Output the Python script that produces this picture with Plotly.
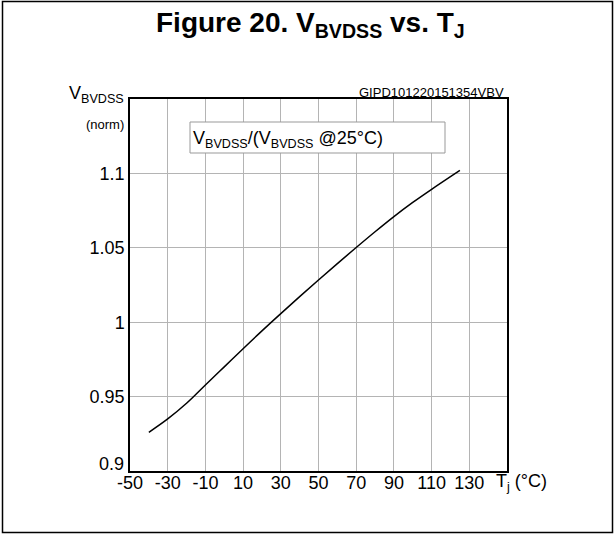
import plotly.graph_objects as go

# Data
tj = [-40, -30, -20, -10, 0, 10, 20, 30, 40, 50, 60, 70, 80, 90, 100, 110, 125]
v_norm = [0.926, 0.935, 0.9455, 0.9578, 0.970, 0.9822, 0.9942, 1.0058, 1.0172, 1.0284,
          1.0394, 1.0502, 1.0608, 1.0710, 1.0805, 1.0893, 1.102]

x_ticks = [-50, -30, -10, 10, 30, 50, 70, 90, 110, 130]
x_ticktext = ["-50", "-30", "-10", "10", "30", "50", "70", "90", "110", "130"]
y_ticks = [0.9, 0.95, 1.0, 1.05, 1.1]
y_ticktext = ["0.9", "0.95", "1", "1.05", "1.1"]

FONT = "Liberation Sans, Arial, sans-serif"
W, H = 614, 534
L, R, T, B = 130, 107, 99, 63
PW, PH = W - L - R, H - T - B


def px(x):
    return (x - L) / PW


def py(y):
    return (H - B - y) / PH


fig = go.Figure()
fig.add_trace(go.Scatter(x=tj, y=v_norm, mode="lines",
                         line=dict(color="black", width=1.5, shape="spline", smoothing=1.0),
                         showlegend=False, hoverinfo="skip"))

fig.update_xaxes(range=[-50, 150], tickvals=x_ticks, ticktext=x_ticktext,
                 showgrid=True, gridcolor="#b4b4b4", gridwidth=1.2,
                 showline=True, linecolor="black", linewidth=1.5, mirror=True,
                 ticks="", zeroline=False, ticklabelstandoff=-5,
                 tickfont=dict(family=FONT, size=18, color="black"))
# the lowest y label sits raised above the corner, drawn separately below
fig.update_yaxes(range=[0.9, 1.15], tickvals=y_ticks[1:], ticktext=y_ticktext[1:],
                 showgrid=True, gridcolor="#b4b4b4", gridwidth=1.2,
                 showline=True, linecolor="black", linewidth=1.5, mirror=True,
                 ticks="", zeroline=False,
                 tickfont=dict(family=FONT, size=18, color="black"))

shapes = [
    # outer frame
    dict(type="rect", xref="paper", yref="paper",
         x0=px(2.5), x1=px(612.5), y0=py(532.5), y1=py(1.5),
         line=dict(color="black", width=1.5), fillcolor="rgba(0,0,0,0)", layer="above"),
    # legend box
    dict(type="rect", xref="paper", yref="paper",
         x0=px(190), x1=px(445), y0=py(153), y1=py(122),
         line=dict(color="#999999", width=1), fillcolor="white", layer="above"),
]

annotations = [
    dict(text="<b>Figure 20. V<sub>BVDSS</sub> vs. T<sub>J</sub></b>",
         xref="paper", yref="paper", x=px(310), y=py(25), xanchor="center", yanchor="middle",
         showarrow=False, font=dict(family=FONT, size=28, color="black")),
    dict(text=y_ticktext[0], xref="paper", yref="y", x=px(126), y=y_ticks[0], yshift=7,
         xanchor="right", yanchor="middle", showarrow=False,
         font=dict(family=FONT, size=18, color="black")),
    dict(text="V<sub>BVDSS</sub>", xref="paper", yref="paper", x=px(126), y=py(94),
         xanchor="right", yanchor="middle", showarrow=False,
         font=dict(family=FONT, size=18, color="black")),
    dict(text="(norm)", xref="paper", yref="paper", x=px(126), y=py(124),
         xanchor="right", yanchor="middle", showarrow=False,
         font=dict(family=FONT, size=13, color="black")),
    dict(text="GIPD101220151354VBV", xref="paper", yref="paper", x=px(506), y=py(92),
         xanchor="right", yanchor="middle", showarrow=False,
         font=dict(family=FONT, size=13, color="black")),
    dict(text="V<sub>BVDSS</sub>/(V<sub>BVDSS</sub> @25°C)", xref="paper", yref="paper",
         x=px(191), y=py(139), xanchor="left", yanchor="middle", showarrow=False,
         font=dict(family=FONT, size=18, color="black")),
    dict(text="T<sub>j</sub> (°C)", xref="paper", yref="paper", x=px(494), y=py(482),
         xanchor="left", yanchor="middle", showarrow=False,
         font=dict(family=FONT, size=18, color="black")),
]

fig.update_layout(width=W, height=H, margin=dict(l=L, r=R, t=T, b=B),
                  paper_bgcolor="white", plot_bgcolor="white",
                  shapes=shapes, annotations=annotations,
                  font=dict(family=FONT, color="black"))

fig.write_html("out.html", config={"displayModeBar": False},
               post_script="document.body.style.margin='0';document.body.style.padding='0';")
